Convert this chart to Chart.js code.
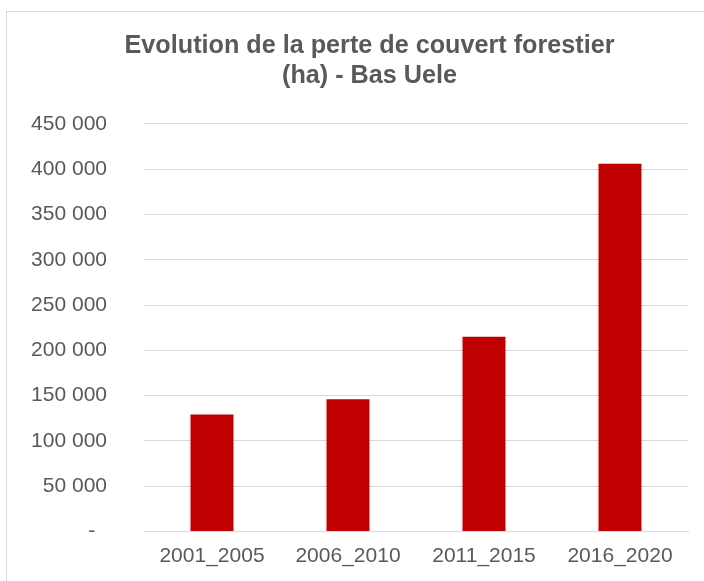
<!DOCTYPE html>
<html>
<head>
<meta charset="utf-8">
<script src="https://cdn.jsdelivr.net/npm/chart.js@4.4.1/dist/chart.umd.min.js"></script>
<style>
  html, body { margin: 0; background: #fff; overflow: hidden; }
  #box {
    position: absolute; left: 6px; top: 11px;
    width: 726px; height: 570px;
    border-left: 1px solid #d9d9d9; border-top: 1px solid #d9d9d9;
    box-sizing: border-box;
  }
  #myChart { display: block; }
</style>
</head>
<body>
<div id="box"><canvas id="myChart" width="725" height="569"></canvas></div>
<script>
// donnees
var periods = ['2001_2005', '2006_2010', '2011_2015', '2016_2020'];
var perteHa = [129000, 146000, 215000, 406000];
var yTickLabels = ['-  ', '50 000', '100 000', '150 000', '200 000', '250 000', '300 000', '350 000', '400 000', '450 000'];
var titleLines = ['Evolution de la perte de couvert forestier', '(ha) - Bas Uele'];

var txtColor = '#595959';
var gridColor = '#d9d9d9';
var fontFamily = '"Liberation Sans", Arial, sans-serif';

new Chart('myChart', {
  type: 'bar',
  data: {
    labels: periods,
    datasets: [{
      data: perteHa,
      backgroundColor: '#c00000',
      borderWidth: 0,
      categoryPercentage: 1,
      barPercentage: 0.316
    }]
  },
  options: {
    responsive: false,
    animation: false,
    layout: { padding: 0 },
    plugins: {
      legend: { display: false },
      tooltip: { enabled: false },
      title: {
        display: true,
        text: titleLines,
        color: txtColor,
        font: { family: fontFamily, size: 25.2, weight: 'bold', lineHeight: 1.19 },
        padding: { top: 19, bottom: 33 }
      }
    },
    scales: {
      x: {
        grid: { display: false, drawTicks: false },
        border: { color: gridColor, width: 1 },
        ticks: { color: txtColor, font: { family: fontFamily, size: 21 }, padding: 12 },
        afterFit: function (scale) { scale.height = 47; }
      },
      y: {
        min: 0,
        max: 450000,
        ticks: {
          stepSize: 50000,
          color: txtColor,
          font: { family: fontFamily, size: 21 },
          padding: 37,
          callback: function (value, index) { return yTickLabels[index]; }
        },
        grid: { color: gridColor, lineWidth: 1, drawTicks: false },
        border: { display: false },
        afterFit: function (scale) { scale.width = 137; }
      },
      // axe vide a droite, juste pour garder le titre centre sur tout le cadre
      yRight: {
        position: 'right',
        ticks: { display: false },
        grid: { display: false, drawTicks: false },
        border: { display: false },
        afterFit: function (scale) { scale.width = 44; }
      }
    }
  }
});
</script>
</body>
</html>
